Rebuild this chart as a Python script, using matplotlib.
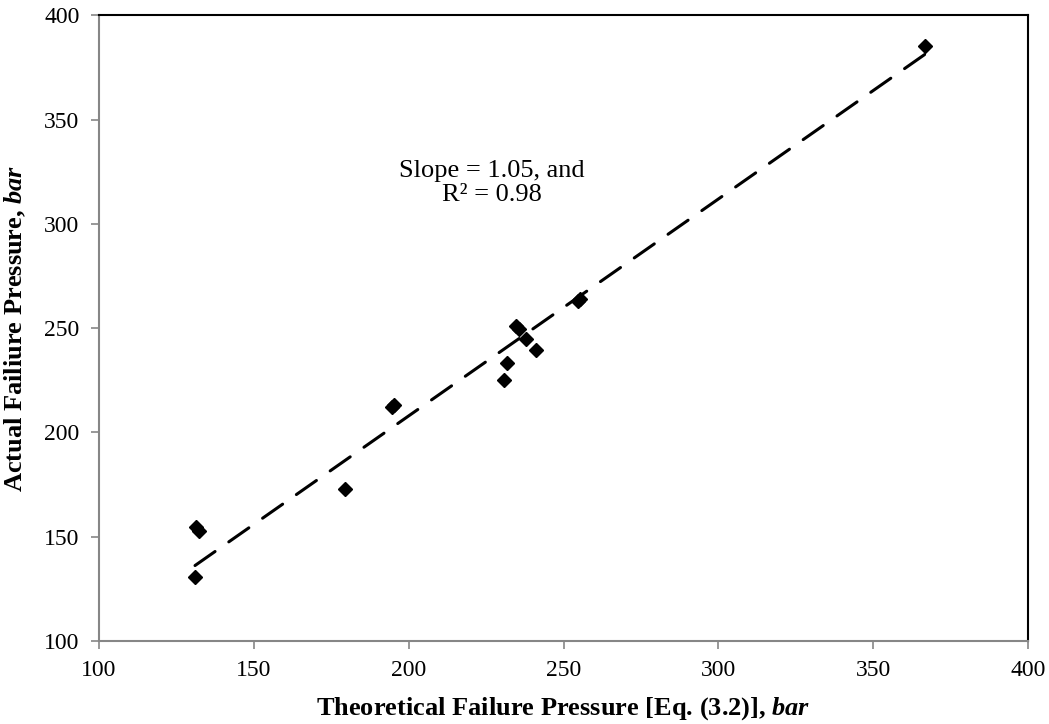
import matplotlib.pyplot as plt
import numpy as np

# readings
theoretical = [131.0, 131.3, 132.3, 179.5, 194.5, 195.2, 230.7, 231.8, 234.5, 235.6, 238.0, 241.0, 254.8, 255.4, 366.8]
actual = [130.7, 154.6, 152.6, 172.8, 212.3, 213.0, 225.2, 233.4, 251.0, 249.8, 244.7, 239.4, 263.0, 264.0, 385.2]
ticks = [100, 150, 200, 250, 300, 350, 400]

plt.rcParams['font.family'] = ['Liberation Serif', 'DejaVu Serif']
plt.rcParams['mathtext.fontset'] = 'custom'
plt.rcParams['mathtext.rm'] = 'Liberation Serif'
plt.rcParams['mathtext.it'] = 'Liberation Serif:italic'
plt.rcParams['mathtext.bf'] = 'Liberation Serif:bold'
plt.rcParams['mathtext.bfit'] = 'Liberation Serif:italic:bold'

fig = plt.figure(figsize=(10.49, 7.24), dpi=100)
ax = fig.add_axes([0.0944, 0.1146, 0.8856, 0.8644])

x = np.array(theoretical)
y = np.array(actual)
# trendline forced through the origin
slope = np.sum(x * y) / np.sum(x * x)
xf = np.array([x.min(), x.max()])
ax.plot(xf, slope * xf, color='black', lw=2.2, dashes=(8, 5.5),
        dash_capstyle='round', zorder=2)
ax.plot(x, y, linestyle='none', marker='D', ms=7, color='black', zorder=3)

ax.text(226.8, 319.5, 'Slope = 1.05, and\nR² = 0.98', ha='center', va='center',
        fontsize=19, linespacing=1.1)

ax.set_xlim(100, 400)
ax.set_ylim(100, 400)
ax.set_xticks(ticks)
ax.set_yticks(ticks)
ax.tick_params(direction='out', length=6, width=1.2, color='#868686',
               labelsize=17, labelcolor='black', pad=8)
for s in ['left', 'bottom']:
    ax.spines[s].set_color('#868686')
    ax.spines[s].set_linewidth(1.5)
for s in ['top', 'right']:
    ax.spines[s].set_color('black')
    ax.spines[s].set_linewidth(1.5)

ax.set_xlabel(r'Theoretical Failure Pressure [Eq. (3.2)], $\mathbfit{bar}$',
              fontsize=19, fontweight='bold', labelpad=10)
ax.set_ylabel(r'Actual Failiure Pressure, $\mathbfit{bar}$',
              fontsize=19, fontweight='bold', labelpad=12)

fig.savefig('out.png', dpi=100)
